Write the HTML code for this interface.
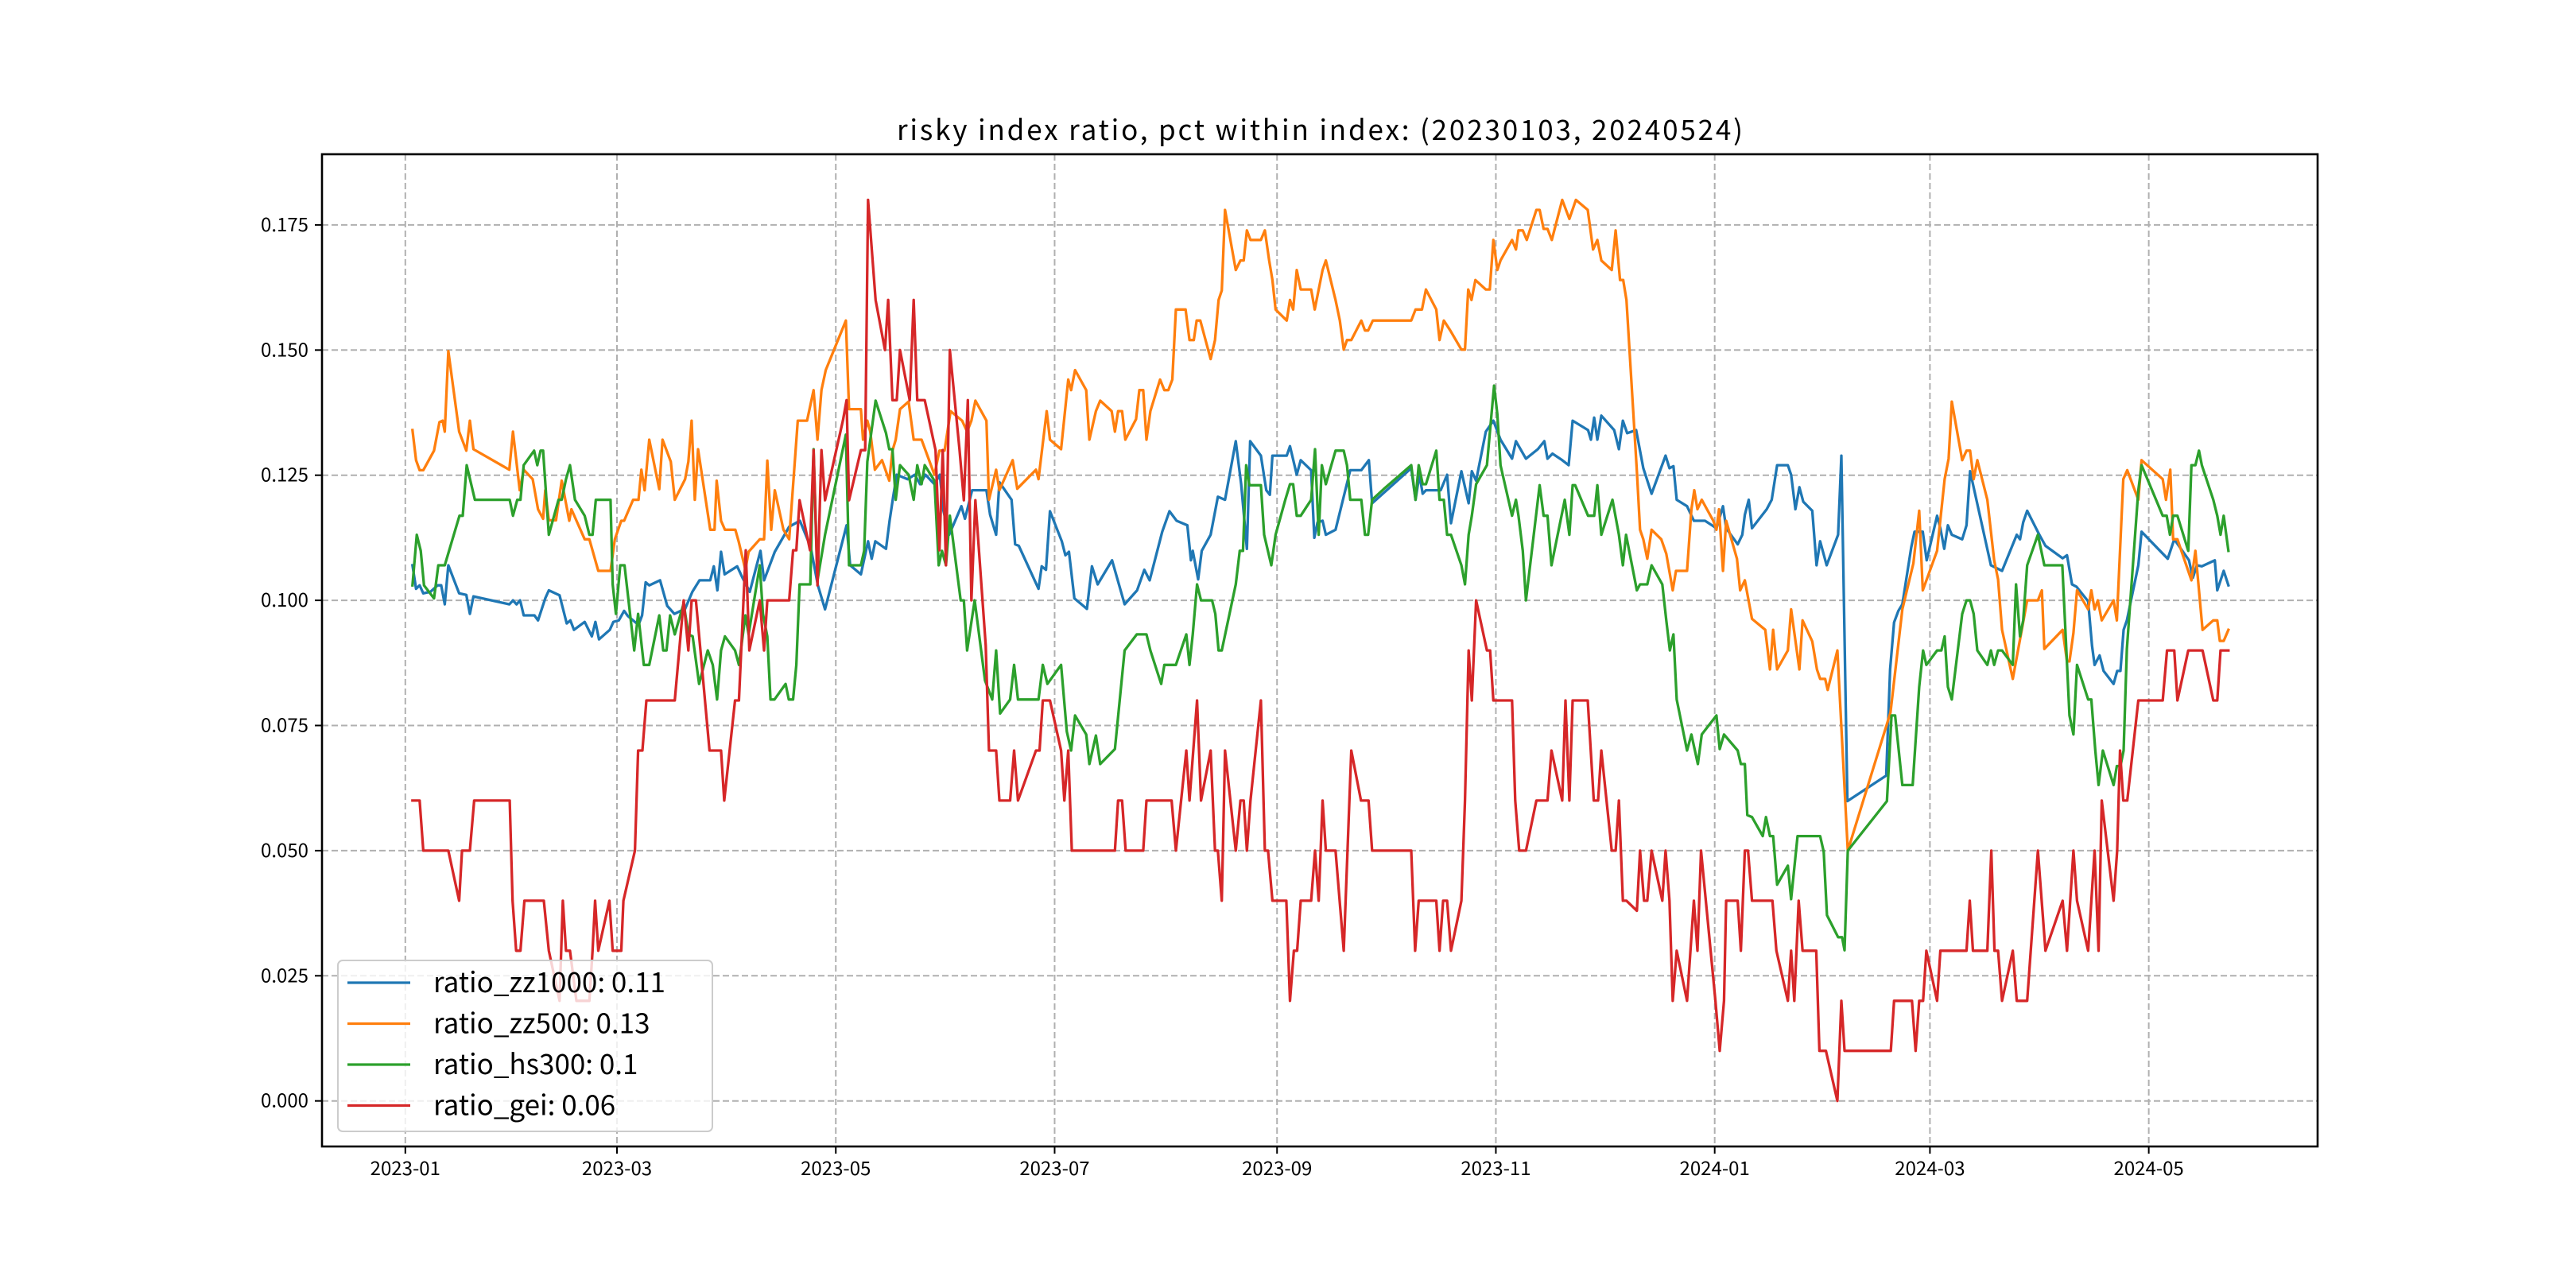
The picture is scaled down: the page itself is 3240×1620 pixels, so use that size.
<!DOCTYPE html>
<html><head><meta charset="utf-8">
<style>
html,body{margin:0;padding:0;background:#fff;}
svg{display:block;}
text{font-family:"Liberation Sans","WenQuanYi Zen Hei","Noto Sans CJK SC",sans-serif;}
</style></head>
<body>
<svg id="chart" width="3240" height="1620" viewBox="0 0 3240 1620" xmlns="http://www.w3.org/2000/svg">
<rect x="0" y="0" width="3240" height="1620" fill="#fff"/>
<text x="1660" y="176" font-size="35" text-anchor="middle" textLength="1064" lengthAdjust="spacing" style="font-family:'WenQuanYi Zen Hei','Noto Sans CJK SC',sans-serif">risky index ratio, pct within index: (20230103, 20240524)</text>
<g id="grid"></g>
<g id="series"></g>
<rect x="405" y="194" width="2510" height="1248" fill="none" stroke="#000" stroke-width="2.6"/>
<g id="axes"></g>
<g id="legend"></g>
</svg>
<script>
const xTickLabels = ["2023-01","2023-03","2023-05","2023-07","2023-09","2023-11","2024-01","2024-03","2024-05"];
const xTickDays = [0,59,120,181,243,304,365,425,486];
const yTickValues = [0,0.025,0.05,0.075,0.1,0.125,0.15,0.175];
const yTickLabels = ["0.000","0.025","0.050","0.075","0.100","0.125","0.150","0.175"];
const seriesNames = ["ratio_zz1000: 0.11","ratio_zz500: 0.13","ratio_hs300: 0.1","ratio_gei: 0.06"];

const zz1000 = [[2,.107],[3,.1023],[4,.103],[5,.1014],[7,.1017],[9,.103],[10,.103],[11,.0992],[12,.107],[15,.1014],[17,.1011],[18,.0973],[19,.1008],[29,.0992],[30,.1],[31,.0992],[32,.1],[33,.097],[36,.097],[37,.096],[39,.1004],[40,.102],[43,.101],[45,.0954],[46,.096],[47,.0941],[50,.0957],[52,.0928],[53,.0957],[54,.0922],[57,.0941],[58,.0957],[59.5,.096],[61,.0979],[62,.0969],[65,.0951],[66,.097],[67,.1036],[68,.103],[71,.104],[73,.0989],[75,.0973],[78,.0983],[80,.1017],[82,.104],[85,.104],[86,.1068],[87,.102],[88,.1097],[89,.1052],[92.5,.1068],[94,.1045],[96,.1017],[99,.1099],[100,.104],[103,.1097],[107,.1147],[110,.1159],[113,.1106],[115,.103],[117,.0982],[123,.115],[124,.107],[127,.1052],[129,.1118],[130,.1083],[131,.1118],[134,.1103],[135,.1159],[136,.1207],[137,.1251],[140,.1242],[142,.1251],[143.5,.1232],[145,.1251],[147.5,.1232],[149,.1251],[150,.1179],[151.6,.1131],[155,.1188],[156,.1163],[158,.122],[162,.122],[163,.1171],[164.7,.1131],[165.6,.1236],[169,.1201],[170,.1112],[171,.1109],[176.5,.1023],[177.4,.1068],[178.6,.1061],[179.7,.1178],[183,.1118],[184,.109],[185,.1097],[186.5,.1004],[190,.0983],[191.4,.1068],[193,.1032],[197,.108],[200.5,.0992],[204,.102],[206,.1061],[207.5,.104],[211,.1137],[213,.1178],[215,.1159],[218,.115],[219,.108],[219.5,.1099],[221,.1042],[222,.1099],[224.5,.1131],[226.5,.1207],[228.5,.1201],[231.5,.1318],[233,.1232],[234.6,.1103],[235.5,.1318],[238.5,.1289],[240,.122],[241,.1211],[241.7,.1289],[245.7,.1289],[246.6,.1308],[248.5,.1251],[249.6,.128],[252.5,.126],[253.4,.1125],[254.3,.1156],[255.7,.1159],[256.6,.1131],[259.3,.1141],[263.4,.126],[266.5,.126],[268.6,.128],[269.5,.1194],[280.4,.1264],[281.6,.1201],[282.7,.1251],[283.6,.1213],[284.5,.122],[288.6,.122],[290.4,.1251],[291.5,.1154],[294.4,.1258],[296.4,.1194],[297.3,.1258],[298.5,.1239],[301.2,.1337],[303.3,.1359],[305.3,.1321],[308.5,.1283],[309.6,.1318],[312.4,.1283],[315.7,.1302],[317.5,.1318],[318.4,.1283],[319.8,.1293],[322.5,.128],[324.3,.127],[325.4,.1359],[329.7,.134],[330.5,.1321],[331.4,.1365],[332.3,.1321],[333.4,.1369],[337,.134],[338.3,.1302],[339.4,.1359],[340.6,.1334],[343.1,.134],[345.1,.1264],[347.4,.1213],[351.3,.1289],[352.4,.1264],[353.5,.1268],[354.4,.1201],[357.3,.1188],[359.2,.1159],[362.3,.1159],[365.5,.1144],[367.3,.1188],[368.2,.1144],[371.4,.1112],[372.7,.1131],[373.4,.1171],[374.5,.1201],[375.4,.1144],[379.5,.1182],[380.9,.1201],[382.4,.127],[385.4,.127],[386.3,.1251],[387.5,.1182],[388.6,.1226],[389.7,.1197],[392.2,.1179],[393.4,.107],[394.4,.1118],[396.2,.107],[399.4,.1131],[400.3,.1289],[402,.0599],[412.8,.065],[413.9,.0862],[415,.0956],[416.2,.0979],[417.3,.0992],[419.8,.1106],[420.7,.1137],[423,.1137],[424.1,.108],[427,.1169],[427.9,.1144],[429,.1103],[430,.115],[431.1,.1131],[434,.1122],[435.2,.115],[436.2,.1258],[442,.107],[445.1,.1059],[449.2,.1131],[450.1,.1122],[451,.1156],[452.1,.1179],[455.5,.1131],[457.2,.1109],[462,.1084],[463.2,.109],[464.6,.1032],[465.9,.1027],[469.1,.0998],[470.2,.0909],[470.9,.0871],[472.3,.089],[473.4,.0859],[476.2,.0833],[477.2,.0859],[478.1,.0859],[479,.0941],[479.9,.096],[483.1,.107],[484,.1137],[491.3,.1083],[493.1,.1122],[497.2,.108],[498.3,.1045],[499.4,.107],[500.8,.1068],[504.4,.108],[505.1,.102],[506.9,.1059],[508.2,.103]];

const zz500 = [[2,.134],[3,.128],[4,.126],[5,.126],[8,.1299],[9.5,.1356],[10.4,.1359],[11,.1337],[12,.1498],[15,.1337],[17,.1299],[18,.1359],[19,.1302],[29,.1261],[30,.1337],[31.9,.122],[33,.1261],[35.5,.1242],[37,.1182],[38.4,.1163],[39,.122],[40,.116],[42,.116],[43.6,.1239],[45.7,.1159],[46.3,.1182],[50,.1122],[51.3,.1122],[53.8,.1059],[57.2,.1059],[58.4,.1122],[60.2,.1159],[61,.1159],[63.5,.1201],[65,.1201],[65.8,.1261],[66.7,.122],[68,.1321],[70.8,.1222],[71.7,.1321],[74,.1277],[75.1,.1201],[78,.1242],[78.9,.1277],[79.8,.1359],[80.7,.1201],[81.6,.1302],[85,.1141],[86.2,.1141],[86.8,.1239],[88,.1159],[89.1,.1141],[92,.1141],[92.9,.1118],[94.8,.1061],[95.7,.1097],[98.8,.1122],[100,.1122],[100.9,.1279],[102,.1141],[103,.122],[105.4,.1141],[107,.1122],[109.4,.1359],[112,.1359],[113.8,.142],[114.9,.1321],[116,.142],[117.2,.146],[122.8,.1559],[123.7,.1382],[127,.1382],[127.6,.1321],[128.8,.1359],[129.6,.1337],[130.9,.1261],[132.9,.128],[134.9,.1239],[135.8,.1299],[136.7,.1321],[137.9,.1382],[140.3,.1397],[141.7,.1321],[143.9,.1321],[147.5,.1251],[148.9,.1299],[150.3,.1299],[152,.1378],[155.2,.1359],[156.6,.1337],[157.8,.1359],[158.9,.1399],[162,.1359],[162.7,.1201],[164.7,.1261],[165.6,.122],[169.3,.128],[170.6,.1223],[175.8,.1261],[176.5,.1242],[178.8,.1378],[179.7,.1321],[182.8,.1302],[184.8,.1441],[185.6,.142],[186.7,.146],[189.8,.142],[190.7,.1321],[192.5,.1378],[193.7,.1399],[196.9,.1378],[197.8,.1337],[198.7,.1378],[199.8,.1378],[200.7,.1321],[203.7,.1362],[204.6,.142],[205.7,.142],[206.6,.1321],[207.7,.1378],[210.4,.1441],[211.6,.142],[212.7,.142],[213.8,.1441],[214.8,.1581],[217.5,.1581],[218.6,.152],[219.8,.152],[220.6,.1559],[221.6,.1559],[224.5,.1482],[225.7,.152],[226.7,.16],[227.6,.1619],[228.5,.178],[231.5,.166],[232.8,.1679],[233.7,.1679],[234.6,.1739],[235.6,.172],[238.5,.172],[239.6,.1739],[240.8,.1679],[241.7,.164],[242.6,.1581],[245.7,.1559],[246.6,.16],[247.5,.1581],[248.5,.166],[249.6,.1621],[252.5,.1621],[253.5,.1581],[255.7,.166],[256.6,.1679],[259.3,.16],[260.5,.1559],[261.6,.1501],[262.5,.152],[263.7,.152],[266.5,.1559],[267.5,.1539],[268.4,.1539],[269.7,.1559],[280.4,.1559],[281.6,.1581],[283.4,.1581],[284.5,.1621],[287.4,.1581],[288.3,.152],[289.5,.1559],[291.3,.1539],[294.4,.1501],[295.4,.1501],[296.3,.1621],[297.2,.16],[298.3,.164],[301.2,.1621],[302.3,.1621],[303.3,.172],[304.4,.166],[305.3,.1679],[308.5,.172],[309.6,.1701],[310.3,.1739],[311.5,.1739],[312.6,.172],[315.3,.178],[316.2,.178],[317.3,.1742],[318.4,.1742],[319.6,.172],[322.5,.18],[324.5,.1762],[326.3,.18],[329.6,.178],[331.1,.1701],[332.3,.172],[333.4,.1679],[336.3,.166],[337.4,.1739],[338.6,.164],[339.5,.164],[340.4,.16],[343.3,.1258],[344.2,.1141],[345.1,.1122],[346.2,.1083],[347.4,.1141],[350.1,.1122],[351.5,.1093],[353.3,.102],[354.2,.1059],[357.3,.1059],[358.5,.1182],[359.3,.122],[360.2,.1182],[361.4,.1201],[364.6,.1159],[365.5,.1141],[366.2,.1182],[367.3,.1059],[368.2,.1159],[371.2,.1083],[372.1,.102],[373.4,.104],[375.4,.0963],[379.1,.0941],[380.4,.0862],[381.3,.0941],[382.4,.0862],[385.4,.09],[386.3,.0982],[388.6,.0862],[389.5,.096],[392.2,.0918],[393.5,.0862],[394.4,.0843],[395.8,.0843],[396.5,.0821],[399.2,.09],[402.1,.05],[414,.0776],[417.3,.0982],[420.4,.1074],[422,.1179],[423,.102],[427,.1099],[429.1,.1242],[430.2,.1283],[431.1,.1397],[434,.128],[435.2,.1299],[436.2,.1299],[437.2,.1242],[438.2,.128],[441,.1201],[442.9,.108],[444,.1042],[445.1,.0941],[448.1,.0843],[452.1,.1],[455.1,.1],[456.2,.102],[456.9,.0903],[462,.0941],[463.2,.0878],[463.9,.0878],[465,.0935],[466,.102],[469.1,.0982],[470,.102],[470.9,.0982],[471.8,.1],[472.9,.096],[476.2,.1],[477.1,.096],[478.9,.1242],[480,.126],[483.1,.1201],[484,.128],[489.9,.1242],[490.8,.1201],[492,.1261],[492.8,.1122],[494,.1122],[497.9,.104],[499,.1099],[501,.0941],[504,.096],[505.1,.096],[505.8,.0919],[506.9,.0919],[508.2,.0941]];

const hs300 = [[2,.103],[3.2,.1131],[4.3,.1099],[5.2,.103],[8,.1004],[9.2,.107],[11,.107],[15.1,.1169],[16,.1169],[17.1,.127],[19.4,.1201],[29.1,.1201],[30,.1169],[31.2,.1201],[32.1,.1201],[33,.127],[35.9,.1299],[36.8,.127],[37.7,.1299],[38.4,.1299],[40,.1131],[42.7,.1201],[43.6,.1201],[44.8,.1242],[45.9,.127],[47.3,.1201],[50,.1169],[51.3,.1131],[52.2,.1131],[53.1,.1201],[57.2,.1201],[57.8,.1032],[58.7,.0973],[59.9,.107],[61.1,.107],[63.8,.09],[64.9,.0973],[66.5,.0871],[68,.0871],[70.8,.097],[71.9,.09],[72.8,.09],[73.8,.097],[75.1,.0932],[77.6,.0994],[78.9,.0932],[80.1,.0928],[81.9,.0833],[84.3,.09],[85.7,.0871],[86.9,.0802],[88,.09],[89.1,.0928],[91.9,.09],[93,.0871],[94.8,.097],[95.7,.0932],[98.8,.107],[99.7,.0973],[100.9,.0928],[101.8,.0802],[102.9,.0802],[106,.0833],[106.9,.0802],[108.1,.0802],[109,.0871],[109.9,.1032],[112.9,.1032],[113.8,.1302],[114.9,.104],[117,.1131],[122.8,.1331],[123.7,.107],[127,.107],[127.9,.1099],[128.8,.1277],[131.1,.1399],[134,.1334],[134.9,.1302],[135.8,.1302],[136.7,.1201],[137.9,.127],[140.3,.1251],[141.7,.1201],[142.7,.127],[143.9,.1232],[144.8,.127],[147.5,.1239],[148.7,.107],[149.6,.1099],[150.7,.107],[151.8,.1169],[154.8,.1],[155.7,.1],[156.6,.09],[158.7,.1],[161.6,.084],[163.6,.0802],[164.7,.09],[165.8,.0774],[168.6,.0802],[169.7,.0871],[170.8,.0802],[176.5,.0802],[177.7,.0871],[179,.0833],[182.8,.0871],[184.4,.0738],[185.6,.07],[186.7,.077],[189.8,.0732],[190.7,.0673],[192.5,.073],[193.7,.0673],[197.8,.0703],[200.5,.09],[203.9,.0932],[206.6,.0932],[207.7,.09],[210.7,.0833],[211.6,.0871],[214.8,.0871],[217.7,.0932],[218.6,.0871],[219.5,.0932],[220.7,.1032],[221.8,.1],[224.9,.1],[225.8,.0973],[226.7,.09],[227.6,.09],[231.5,.1032],[232.6,.1099],[233.5,.1099],[234.4,.127],[235.3,.123],[238.5,.123],[239.4,.1131],[241.4,.107],[242.6,.1131],[245.3,.1201],[246.6,.1232],[247.5,.1232],[248.5,.1169],[249.6,.1169],[252.5,.1201],[253.6,.1302],[254.6,.1131],[255.5,.127],[256.6,.1232],[259.3,.1299],[261.6,.1299],[262.5,.127],[263.4,.1201],[266.5,.1201],[267.5,.1131],[268.4,.1131],[269.5,.1201],[272.7,.1222],[280.4,.127],[281.6,.1201],[282.5,.127],[283.6,.1232],[284.5,.1232],[287.4,.1299],[288.3,.1201],[289.5,.1201],[290.4,.1131],[291.5,.1131],[294.4,.107],[295.4,.1032],[296.4,.1131],[297.3,.1169],[298.5,.1232],[301.5,.127],[303.5,.1429],[304.4,.1372],[305.3,.127],[308.5,.1169],[309.6,.1201],[310.3,.1169],[311.5,.1099],[312.4,.1],[316.2,.123],[317.3,.1169],[318.4,.1169],[319.5,.107],[323.2,.1201],[324.5,.1131],[325.4,.123],[326.1,.123],[329.7,.1169],[331.4,.1169],[332.3,.123],[333.4,.1131],[336.5,.1201],[338.3,.1131],[339.4,.107],[340.3,.1131],[343.3,.102],[344.2,.1032],[346.2,.1032],[347.4,.107],[350.4,.1032],[351.5,.096],[352.5,.09],[353.5,.0932],[354.4,.0802],[357.3,.07],[358.5,.0732],[360.3,.0673],[361.4,.0732],[365.5,.077],[366.4,.0703],[367.6,.0732],[371.4,.07],[372.3,.0673],[373.4,.0673],[374.1,.0571],[375.4,.0567],[378.4,.0529],[379.3,.0567],[380.4,.0529],[381.3,.0529],[382.4,.0432],[385.4,.047],[386.3,.0403],[388.1,.0529],[394.4,.0529],[395.4,.0498],[396.3,.0371],[399.4,.0327],[400.5,.0327],[401.2,.0301],[402.1,.05],[413,.0599],[414.3,.077],[415.3,.077],[417.3,.0631],[420.2,.0631],[422,.0827],[423.1,.09],[424,.0871],[427,.09],[428.2,.09],[429.1,.0928],[430,.0827],[431.1,.0802],[434,.0973],[435.2,.1],[436.2,.1],[437.2,.0973],[438.2,.09],[441,.0871],[442,.09],[442.9,.0871],[444,.09],[445.1,.09],[448.1,.0871],[449,.1032],[450.1,.0928],[451,.096],[452.1,.107],[455.1,.1131],[456.9,.107],[461.9,.107],[463.9,.077],[465,.0732],[466,.0871],[469.1,.0802],[470,.0802],[471.1,.07],[472,.0631],[473.2,.07],[476.2,.0631],[477.1,.0669],[478.1,.0669],[479,.07],[479.9,.0903],[483.1,.122],[484,.127],[489.9,.1169],[491,.1169],[491.9,.1131],[492.8,.1169],[494,.1169],[497,.1099],[497.9,.127],[499,.127],[500,.1299],[500.8,.127],[504,.1201],[505.1,.1169],[506,.1131],[506.9,.1169],[508.2,.1099]];

const gei = [[2,.06],[4,.06],[5,.05],[12,.05],[15,.04],[15.8,.05],[18,.05],[19.2,.06],[29.1,.06],[29.9,.04],[30.9,.03],[32.1,.03],[33.2,.04],[38.6,.04],[40,.03],[43,.02],[43.9,.04],[44.8,.03],[45.9,.03],[47.7,.02],[51.3,.02],[52.2,.03],[52.9,.04],[53.8,.03],[56.9,.04],[57.8,.03],[60.2,.03],[60.8,.04],[64,.05],[64.9,.07],[66.1,.07],[67.2,.08],[75.1,.08],[77.6,.1],[78.9,.09],[79.8,.1],[81,.1],[84.8,.07],[88,.07],[88.9,.06],[91.9,.08],[93,.08],[94.9,.11],[95.9,.09],[98.8,.1],[100,.09],[100.9,.1],[107,.1],[108.1,.11],[109,.11],[109.9,.12],[112.8,.11],[113.8,.13],[114.9,.103],[116,.13],[117,.12],[122,.136],[123,.14],[123.7,.12],[127,.13],[128.2,.13],[129,.18],[131.1,.16],[133.7,.15],[134.6,.16],[135.8,.14],[137,.14],[137.9,.15],[140.6,.14],[141.7,.16],[142.7,.14],[144.8,.14],[147.8,.13],[148.9,.11],[149.8,.13],[150.7,.107],[151.8,.15],[154.5,.13],[155.7,.12],[156.8,.14],[157.8,.1],[158.9,.12],[161.8,.091],[162.7,.07],[164.7,.07],[165.6,.06],[168.6,.06],[169.7,.07],[170.8,.06],[175.8,.07],[176.8,.07],[177.7,.08],[179.7,.08],[182.8,.07],[183.7,.06],[184.8,.07],[185.8,.05],[197.8,.05],[198.7,.06],[199.8,.06],[200.8,.05],[205.7,.05],[206.6,.06],[213.6,.06],[214.8,.05],[217.7,.07],[218.6,.06],[220.7,.08],[221.8,.06],[224.5,.07],[225.7,.05],[226.5,.05],[227.6,.04],[228.5,.07],[231.5,.05],[232.8,.06],[233.7,.06],[234.6,.05],[235.6,.06],[238.5,.08],[239.6,.05],[240.5,.05],[241.7,.04],[245.6,.04],[246.6,.02],[247.7,.03],[248.6,.03],[249.6,.04],[252.5,.04],[253.6,.05],[254.6,.04],[255.7,.06],[256.6,.05],[259.3,.05],[261.6,.03],[263.7,.07],[266.4,.06],[268.5,.06],[269.5,.05],[280.4,.05],[281.5,.03],[282.5,.04],[287.4,.04],[288.3,.03],[289.3,.04],[290.4,.04],[291.5,.03],[294.4,.04],[295.4,.06],[296.4,.09],[297.3,.08],[298.5,.1],[301.5,.09],[302.4,.09],[303.3,.08],[308.5,.08],[309.4,.06],[310.5,.05],[312.4,.05],[315.3,.06],[318.4,.06],[319.5,.07],[322.5,.06],[323.4,.08],[324.5,.06],[325.4,.08],[329.6,.08],[331.3,.06],[332.5,.06],[333.4,.07],[336.3,.05],[337.4,.05],[338.3,.06],[339.4,.04],[340.4,.04],[343.3,.038],[344.2,.05],[345.3,.04],[346.2,.04],[347.4,.05],[350.4,.04],[351.3,.05],[352.4,.04],[353.3,.02],[354.4,.03],[357.3,.02],[359.2,.04],[360.2,.03],[361.2,.05],[365.2,.02],[366.4,.01],[367.6,.02],[368.2,.04],[371.4,.04],[372.3,.03],[373.4,.05],[374.3,.05],[375.4,.04],[381.1,.04],[382.2,.03],[385.4,.02],[386.3,.03],[387.2,.02],[388.4,.04],[389.5,.03],[393.3,.03],[394.2,.01],[396,.01],[399.2,0],[400.3,.02],[401.2,.01],[414.1,.01],[415,.02],[420,.02],[421,.01],[422,.02],[423.1,.02],[424,.03],[427,.02],[427.9,.03],[435.2,.03],[436.1,.04],[437,.03],[441,.03],[442.1,.05],[443,.03],[444,.03],[445.1,.02],[448.1,.03],[449.2,.02],[452.1,.02],[455.1,.05],[457.2,.03],[462,.04],[463.2,.03],[465,.05],[466,.04],[469.1,.03],[470.9,.05],[472,.03],[472.9,.06],[476.2,.04],[477.2,.05],[478,.07],[478.9,.06],[480,.06],[483.1,.08],[489.9,.08],[491.1,.09],[493.1,.09],[494,.08],[497,.09],[501,.09],[504,.08],[505.1,.08],[506,.09],[508.2,.09]];

const NS = "http://www.w3.org/2000/svg";
const plotL = 405, plotR = 2915, plotT = 194, plotB = 1442;
const x0 = 509.8, pxPerDay = 4.512;
const y0 = 1384.7, pxPerUnit = 6296;
function xScale(d){ return x0 + d * pxPerDay; }
function yScale(v){ return y0 - v * pxPerUnit; }
function mk(tag, attrs, parent){
  const el = document.createElementNS(NS, tag);
  for (const k in attrs) el.setAttribute(k, attrs[k]);
  parent.appendChild(el);
  return el;
}
const grid = document.getElementById('grid');
const axes = document.getElementById('axes');
const series = document.getElementById('series');
const legend = document.getElementById('legend');

xTickDays.forEach((d, i) => {
  const x = xScale(d);
  const gl = mk('line', {x1:x, x2:x, y1:plotT, y2:plotB, stroke:'#b0b0b0', 'stroke-width':2, 'stroke-dasharray':'8,4'}, grid);
  
  
  const tk = mk('line', {x1:x, x2:x, y1:plotB, y2:plotB + 9, stroke:'#000', 'stroke-width':2}, axes);
  
  
  const t = mk('text', {x:x, y:plotB + 36, 'font-size':24, 'text-anchor':'middle', style:"font-family:'WenQuanYi Zen Hei','Noto Sans CJK SC',sans-serif"}, axes);
  t.textContent = xTickLabels[i];
  
  
});
yTickValues.forEach((v, i) => {
  const y = yScale(v);
  const gl = mk('line', {x1:plotL, x2:plotR, y1:y, y2:y, stroke:'#b0b0b0', 'stroke-width':2, 'stroke-dasharray':'8,4'}, grid);
  
  
  const tk = mk('line', {x1:plotL - 9, x2:plotL, y1:y, y2:y, stroke:'#000', 'stroke-width':2}, axes);
  
  
  const t = mk('text', {x:plotL - 17, y:y + 8, 'font-size':24, 'text-anchor':'end', style:"font-family:'WenQuanYi Zen Hei','Noto Sans CJK SC',sans-serif"}, axes);
  t.textContent = yTickLabels[i];
  
  
});

const allSeries = [zz1000, zz500, hs300, gei];
const colors = ['#1f77b4','#ff7f0e','#2ca02c','#d62728'];
const lineNames = ['line-zz1000','line-zz500','line-hs300','line-gei'];
allSeries.forEach((data, si) => {
  const pts = data.map(p => xScale(p[0]).toFixed(1) + ',' + yScale(p[1]).toFixed(1)).join(' ');
  const pl = mk('polyline', {points:pts, fill:'none', stroke:colors[si], 'stroke-width':3.3, 'stroke-linejoin':'round', 'stroke-linecap':'square'}, series);
  
  
});

const lbox = mk('rect', {x:425, y:1208, width:471, height:215, rx:6, ry:6, fill:'#fff', 'fill-opacity':0.8, stroke:'#cccccc', 'stroke-width':2}, legend);


seriesNames.forEach((name, i) => {
  const y = 1236 + i * 51.5;
  const ln = mk('line', {x1:437, x2:516, y1:y, y2:y, stroke:colors[i], 'stroke-width':3.3}, legend);
  
  
  const t = mk('text', {x:545, y:y + 12, 'font-size':35, style:"font-family:'WenQuanYi Zen Hei','Noto Sans CJK SC',sans-serif"}, legend);
  t.textContent = name;
  
  
});
</script>
</body></html>
